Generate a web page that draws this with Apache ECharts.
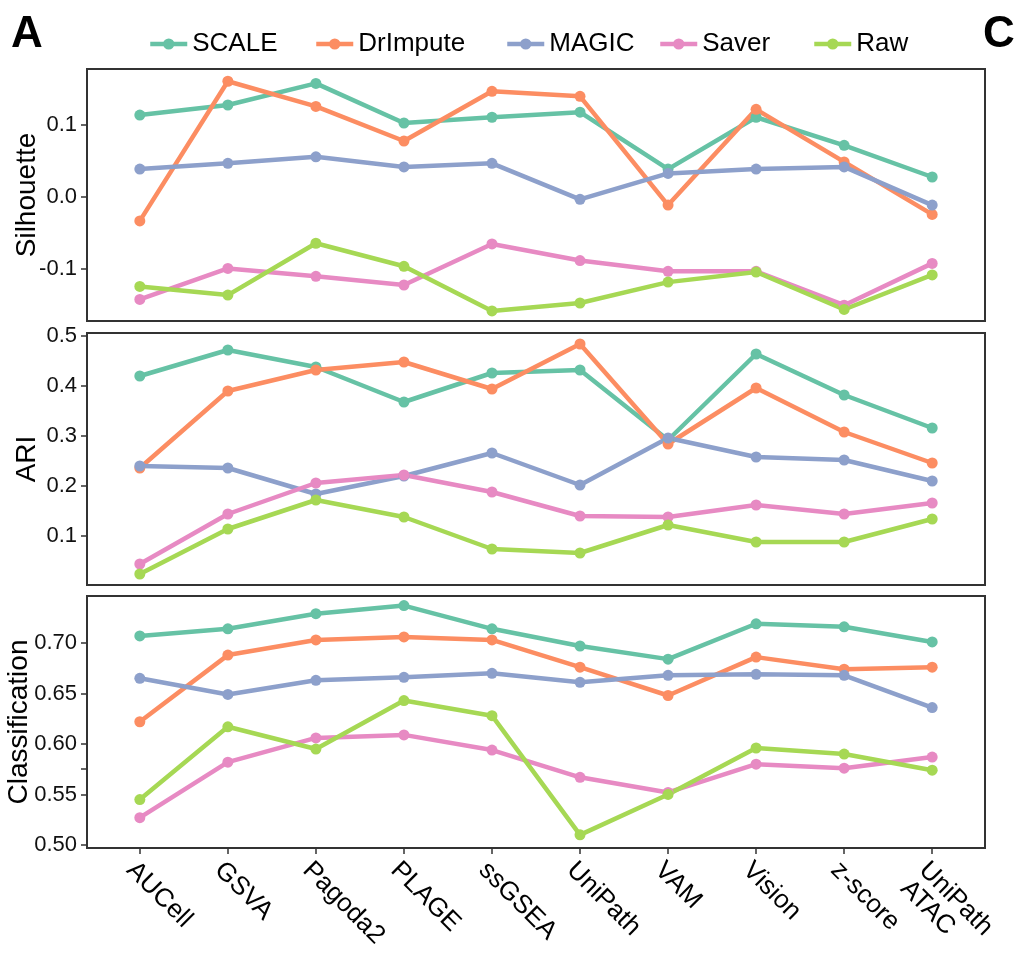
<!DOCTYPE html>
<html>
<head>
<meta charset="utf-8">
<script src="https://cdn.jsdelivr.net/npm/echarts@6/dist/echarts.min.js"></script>
<style>
	html, body { margin: 0; padding: 0; background: #fff; }
	#chart { width: 1016px; height: 962px; }
</style>
</head>
<body>
<div id="chart"></div>
<script>
var methods = ['AUCell', 'GSVA', 'Pagoda2', 'PLAGE', 'ssGSEA', 'UniPath', 'VAM', 'Vision', 'z-score', 'UniPath\nATAC'];
var names = ['SCALE', 'DrImpute', 'MAGIC', 'Saver', 'Raw'];
var colors = ['#66c2a5', '#fc8d62', '#8da0cb', '#e78ac3', '#a6d854'];

// Silhouette
var silScale = [0.114, 0.128, 0.158, 0.103, 0.111, 0.118, 0.039, 0.111, 0.072, 0.028];
var silDrImpute = [-0.033, 0.161, 0.126, 0.078, 0.147, 0.140, -0.011, 0.122, 0.049, -0.024];
var silMagic = [0.039, 0.047, 0.056, 0.042, 0.047, -0.003, 0.033, 0.039, 0.042, -0.011];
var silSaver = [-0.142, -0.099, -0.110, -0.122, -0.065, -0.088, -0.103, -0.103, -0.150, -0.092];
var silRaw = [-0.124, -0.136, -0.064, -0.096, -0.158, -0.147, -0.118, -0.104, -0.156, -0.108];

// ARI
var ariScale = [0.420, 0.472, 0.438, 0.368, 0.426, 0.432, 0.292, 0.464, 0.382, 0.316];
var ariDrImpute = [0.236, 0.390, 0.432, 0.448, 0.394, 0.484, 0.284, 0.396, 0.308, 0.246];
var ariMagic = [0.240, 0.236, 0.184, 0.220, 0.266, 0.202, 0.296, 0.258, 0.252, 0.210];
var ariSaver = [0.044, 0.144, 0.206, 0.222, 0.188, 0.140, 0.138, 0.162, 0.144, 0.166];
var ariRaw = [0.024, 0.114, 0.172, 0.138, 0.074, 0.066, 0.122, 0.088, 0.088, 0.134];

// Classification
var clsScale = [0.707, 0.714, 0.729, 0.737, 0.714, 0.697, 0.684, 0.719, 0.716, 0.701];
var clsDrImpute = [0.622, 0.688, 0.703, 0.706, 0.703, 0.676, 0.648, 0.686, 0.674, 0.676];
var clsMagic = [0.665, 0.649, 0.663, 0.666, 0.670, 0.661, 0.668, 0.669, 0.668, 0.636];
var clsSaver = [0.527, 0.582, 0.606, 0.609, 0.594, 0.567, 0.552, 0.580, 0.576, 0.587];
var clsRaw = [0.545, 0.617, 0.595, 0.643, 0.628, 0.510, 0.550, 0.596, 0.590, 0.574];

var silTicks = [-0.1, 0.0, 0.1];
var ariTicks = [0.1, 0.2, 0.3, 0.4, 0.5];
var clsTicks = [0.50, 0.55, 0.60, 0.65, 0.70];
var clsTickMarks = [0.50, 0.55, 0.575, 0.60, 0.65, 0.70]; // stray mark at 0.575 is in the original

var panels = [
	{ title: 'Silhouette', gap: 46, min: -0.172, max: 0.178, ticks: silTicks, marks: silTicks, digits: 1, data: [silScale, silDrImpute, silMagic, silSaver, silRaw] },
	{ title: 'ARI', gap: 46, min: 0.002, max: 0.506, ticks: ariTicks, marks: ariTicks, digits: 1, data: [ariScale, ariDrImpute, ariMagic, ariSaver, ariRaw] },
	{ title: 'Classification', gap: 54, min: 0.497, max: 0.7465, ticks: clsTicks, marks: clsTickMarks, digits: 2, data: [clsScale, clsDrImpute, clsMagic, clsSaver, clsRaw] }
];
var tops = [69, 333, 596];
var font = 'Liberation Sans, Arial, sans-serif';

var myChart = echarts.init(document.getElementById('chart'));

var grids = [], xAxes = [], yAxes = [], series = [];
var xIdx = methods.map(function(m, i) { return i; });

panels.forEach(function(p, k) {
	grids.push({
		left: 87, right: 31, top: tops[k], height: 252,
		outerBoundsMode: 'none', containLabel: false,
		show: true, borderColor: '#333', borderWidth: 2, backgroundColor: 'transparent'
	});
	var last = k === panels.length - 1;
	xAxes.push({
		type: 'value', gridIndex: k, min: -0.6, max: 9.6,
		splitLine: { show: false },
		axisLine: { show: false, onZero: false },
		axisTick: { show: last, customValues: xIdx, length: 6, lineStyle: { color: '#333', width: 1.5 } },
		axisLabel: {
			show: last, customValues: xIdx, rotate: -45, margin: 9, verticalAlign: 'top',
			fontSize: 26, fontFamily: font, color: '#000', lineHeight: 26,
			formatter: function(v) { return methods[Math.round(v)]; }
		}
	});
	yAxes.push({
		type: 'value', gridIndex: k, min: p.min, max: p.max,
		name: p.title, nameLocation: 'middle', nameGap: p.gap, nameMoveOverlap: false,
		nameTextStyle: { fontSize: 28, fontFamily: font, color: '#000' },
		splitLine: { show: false },
		axisLine: { show: false, onZero: false },
		axisTick: { show: true, customValues: p.marks, length: 6, lineStyle: { color: '#333', width: 1.5 } },
		axisLabel: {
			customValues: p.ticks, margin: 10,
			fontSize: 22, fontFamily: font, color: '#111',
			formatter: function(v) { return v.toFixed(p.digits); }
		}
	});
	p.data.forEach(function(vals, s) {
		series.push({
			name: names[s], type: 'line', xAxisIndex: k, yAxisIndex: k,
			symbol: 'circle', symbolSize: 11, clip: false,
			itemStyle: { color: colors[s] },
			lineStyle: { color: colors[s], width: 4.5 },
			emphasis: { disabled: true },
			data: vals.map(function(v, i) { return [i, v]; })
		});
	});
});

var legendLeft = [143, 309, 500, 653, 807];
var legends = names.map(function(n, i) {
	return {
		data: [n], left: legendLeft[i], top: 26,
		itemWidth: 37, itemHeight: 14, itemGap: 10,
		lineStyle: { width: 4.5 },
		textStyle: { fontSize: 26, fontFamily: font, color: '#000' }
	};
});

var option = {
	animation: false,
	color: colors,
	title: [
		{ text: 'A', left: 6, top: 8, textStyle: { fontSize: 44, fontWeight: 'bold', fontFamily: font, color: '#000' } },
		{ text: 'C', left: 978, top: 8, textStyle: { fontSize: 44, fontWeight: 'bold', fontFamily: font, color: '#000' } }
	],
	legend: legends,
	grid: grids,
	xAxis: xAxes,
	yAxis: yAxes,
	series: series
};
myChart.setOption(option);
</script>
</body>
</html>
